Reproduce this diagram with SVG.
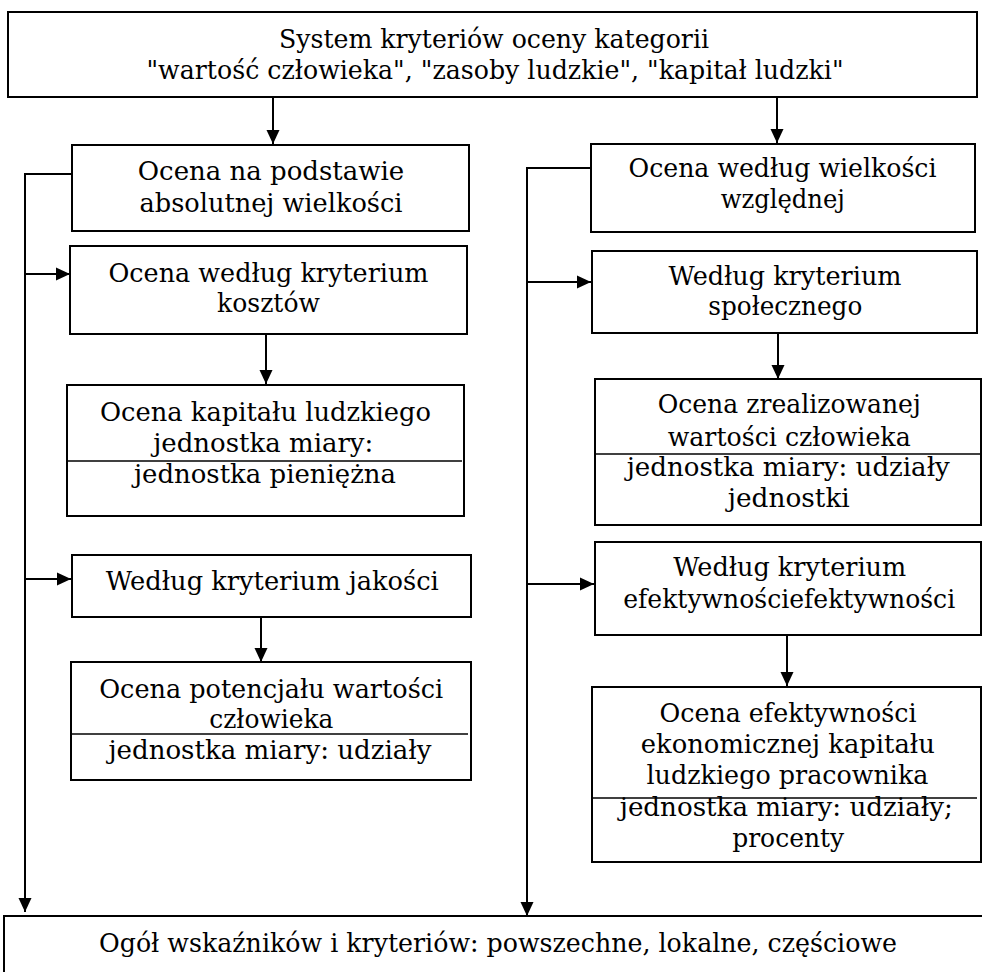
<svg xmlns="http://www.w3.org/2000/svg" width="982" height="972" viewBox="0 0 982 972">
  <style>
    .box { fill: #ffffff; stroke: #000000; stroke-width: 2; }
    .div { stroke: #000000; stroke-width: 1.6; fill: none; }
    .wire { stroke: #000000; stroke-width: 2; fill: none; }
    text { font-family: "DejaVu Serif", "Liberation Serif", serif; font-size: 26px; fill: #000000; text-anchor: middle; }
  </style>
  <defs>
    <marker id="arrow" viewBox="0 0 14 14" refX="14" refY="7" markerWidth="14" markerHeight="14" markerUnits="userSpaceOnUse" orient="auto">
      <path d="M0,0.5 L14,7 L0,13.5 Z" fill="#000000"/>
    </marker>
  </defs>
  <rect width="982" height="972" fill="#ffffff"/>

  <!-- connectors -->
  <g id="connectors">
    <line class="wire" x1="273" y1="97" x2="273" y2="144" marker-end="url(#arrow)"/>
    <line class="wire" x1="777" y1="97" x2="777" y2="143" marker-end="url(#arrow)"/>
    <!-- left branch -->
    <polyline class="wire" points="72,174 25,174 25,912" marker-end="url(#arrow)"/>
    <line class="wire" x1="25" y1="274" x2="70" y2="274" marker-end="url(#arrow)"/>
    <line class="wire" x1="25" y1="579" x2="71" y2="579" marker-end="url(#arrow)"/>
    <line class="wire" x1="266" y1="335" x2="266" y2="384" marker-end="url(#arrow)"/>
    <line class="wire" x1="261" y1="618" x2="261" y2="662" marker-end="url(#arrow)"/>
    <!-- right branch -->
    <polyline class="wire" points="591,168 527,168 527,916" marker-end="url(#arrow)"/>
    <line class="wire" x1="527" y1="282" x2="591" y2="282" marker-end="url(#arrow)"/>
    <line class="wire" x1="527" y1="584" x2="594" y2="584" marker-end="url(#arrow)"/>
    <line class="wire" x1="778" y1="334" x2="778" y2="379" marker-end="url(#arrow)"/>
    <line class="wire" x1="787" y1="635" x2="787" y2="686" marker-end="url(#arrow)"/>
  </g>

  <g id="system">
    <rect class="box" x="8" y="12" width="969" height="85"/>
    <text x="494" y="48" textLength="430" lengthAdjust="spacingAndGlyphs">System kryteriów oceny kategorii</text>
    <text x="495" y="79" textLength="697" lengthAdjust="spacingAndGlyphs">"wartość człowieka", "zasoby ludzkie", "kapitał ludzki"</text>
  </g>

  <g id="absolutna">
    <rect class="box" x="72" y="145" width="397" height="86"/>
    <text x="271" y="180">Ocena na podstawie</text>
    <text x="271" y="212" textLength="263" lengthAdjust="spacingAndGlyphs">absolutnej wielkości</text>
  </g>

  <g id="koszty">
    <rect class="box" x="70" y="246" width="397" height="88"/>
    <text x="268.5" y="282" textLength="320" lengthAdjust="spacingAndGlyphs">Ocena według kryterium</text>
    <text x="268.5" y="312" textLength="103" lengthAdjust="spacingAndGlyphs">kosztów</text>
  </g>

  <g id="kapital">
    <rect class="box" x="67" y="385" width="397" height="131"/>
    <line class="div" x1="67" y1="461" x2="462" y2="461"/>
    <text x="265.5" y="421" textLength="331" lengthAdjust="spacingAndGlyphs">Ocena kapitału ludzkiego</text>
    <text x="263.3" y="452" textLength="220" lengthAdjust="spacingAndGlyphs">jednostka miary:</text>
    <text x="265" y="483" textLength="262" lengthAdjust="spacingAndGlyphs">jednostka pieniężna</text>
  </g>

  <g id="jakosc">
    <rect class="box" x="72" y="555" width="399" height="62"/>
    <text x="272.3" y="590" textLength="333" lengthAdjust="spacingAndGlyphs">Według kryterium jakości</text>
  </g>

  <g id="potencjal">
    <rect class="box" x="71" y="662" width="400" height="118"/>
    <line class="div" x1="71" y1="734" x2="468" y2="734"/>
    <text x="271.2" y="698" textLength="344" lengthAdjust="spacingAndGlyphs">Ocena potencjału wartości</text>
    <text x="271.3" y="728" textLength="124" lengthAdjust="spacingAndGlyphs">człowieka</text>
    <text x="270" y="759" textLength="323" lengthAdjust="spacingAndGlyphs">jednostka miary: udziały</text>
  </g>

  <g id="wzgledna">
    <rect class="box" x="591" y="144" width="384" height="88"/>
    <text x="782.5" y="177" textLength="308" lengthAdjust="spacingAndGlyphs">Ocena według wielkości</text>
    <text x="782.8" y="208" textLength="124" lengthAdjust="spacingAndGlyphs">względnej</text>
  </g>

  <g id="spoleczne">
    <rect class="box" x="592" y="251" width="385" height="82"/>
    <text x="785" y="285" textLength="233" lengthAdjust="spacingAndGlyphs">Według kryterium</text>
    <text x="785.3" y="315" textLength="154" lengthAdjust="spacingAndGlyphs">społecznego</text>
  </g>

  <g id="zrealizowana">
    <rect class="box" x="595" y="379" width="386" height="146"/>
    <line class="div" x1="595" y1="454" x2="981" y2="454"/>
    <text x="789.2" y="413" textLength="263" lengthAdjust="spacingAndGlyphs">Ocena zrealizowanej</text>
    <text x="789.2" y="446" textLength="243" lengthAdjust="spacingAndGlyphs">wartości człowieka</text>
    <text x="788.3" y="476" textLength="323" lengthAdjust="spacingAndGlyphs">jednostka miary: udziały</text>
    <text x="788.8" y="507" textLength="122" lengthAdjust="spacingAndGlyphs">jednostki</text>
  </g>

  <g id="efektywnosc">
    <rect class="box" x="595" y="542" width="386" height="93"/>
    <text x="789.7" y="576" textLength="233" lengthAdjust="spacingAndGlyphs">Według kryterium</text>
    <text x="789.2" y="608" textLength="332" lengthAdjust="spacingAndGlyphs">efektywnościefektywności</text>
  </g>

  <g id="ekonomiczna">
    <rect class="box" x="592" y="687" width="389" height="175"/>
    <line class="div" x1="591" y1="798" x2="977" y2="798"/>
    <text x="788" y="722" textLength="257" lengthAdjust="spacingAndGlyphs">Ocena efektywności</text>
    <text x="787.8" y="753" textLength="294" lengthAdjust="spacingAndGlyphs">ekonomicznej kapitału</text>
    <text x="787.5" y="784" textLength="282" lengthAdjust="spacingAndGlyphs">ludzkiego pracownika</text>
    <text x="786.3" y="816" textLength="333" lengthAdjust="spacingAndGlyphs">jednostka miary: udziały;</text>
    <text x="788.2" y="847" textLength="112" lengthAdjust="spacingAndGlyphs">procenty</text>
  </g>

  <g id="ogol">
    <rect class="box" x="4" y="916" width="990" height="70"/>
    <text x="498" y="952" textLength="798" lengthAdjust="spacingAndGlyphs">Ogół wskaźników i kryteriów: powszechne, lokalne, częściowe</text>
  </g>
</svg>
